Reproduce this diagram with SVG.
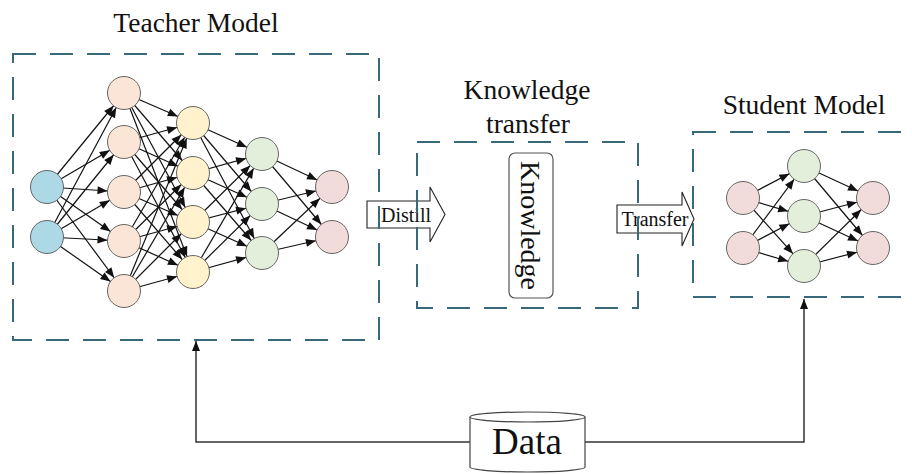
<svg xmlns="http://www.w3.org/2000/svg" width="912" height="474" viewBox="0 0 912 474">
  <style>
    .title { font-family: "Liberation Serif", "Times New Roman", serif; font-size: 27.5px; fill: #111; text-anchor: middle; }
    .lbl { font-family: "Liberation Serif", "Times New Roman", serif; font-size: 20px; fill: #111; text-anchor: middle; }
    .frame { fill: none; stroke: #37697a; stroke-width: 2; stroke-dasharray: 23 14; }
    .edge { stroke: #111; stroke-width: 1.2; marker-end: url(#head-node); }
    .feed { fill: none; stroke: #333; stroke-width: 1.5; marker-end: url(#head-feed); }
    .block { fill: #fff; stroke: #222; stroke-width: 1.1; }
    .n { stroke: #666; stroke-width: 1; }
    .in { fill: #add8e6; }
    .h1 { fill: #fbe5d6; }
    .h2 { fill: #fff2cc; }
    .h3 { fill: #e3eedb; }
    .out { fill: #f2dcdb; }
  </style>
  <defs>
    <!-- tip sits on the rim of a 16.5 radius neuron -->
    <marker id="head-node" viewBox="-12 -6 32 12" markerWidth="32" markerHeight="12" markerUnits="userSpaceOnUse" refX="16.5" refY="0" orient="auto" overflow="visible">
      <path d="M0,0 L-10,-4 L-10,4 Z" fill="#111"/>
    </marker>
    <marker id="head-feed" viewBox="-12 -6 14 12" markerWidth="14" markerHeight="12" markerUnits="userSpaceOnUse" refX="0" refY="0" orient="auto" overflow="visible">
      <path d="M0,0 L-10,-4 L-10,4 Z" fill="#111"/>
    </marker>
  </defs>

  <rect width="912" height="474" fill="#fff"/>

  <g id="connectors">
    <!-- teacher: input -> hidden 1 -->
    <line class="edge" x1="47" y1="187" x2="124" y2="93"/>
    <line class="edge" x1="47" y1="187" x2="124" y2="142"/>
    <line class="edge" x1="47" y1="187" x2="124" y2="192"/>
    <line class="edge" x1="47" y1="187" x2="124" y2="241"/>
    <line class="edge" x1="47" y1="187" x2="124" y2="291"/>
    <line class="edge" x1="47" y1="237" x2="124" y2="93"/>
    <line class="edge" x1="47" y1="237" x2="124" y2="142"/>
    <line class="edge" x1="47" y1="237" x2="124" y2="192"/>
    <line class="edge" x1="47" y1="237" x2="124" y2="241"/>
    <line class="edge" x1="47" y1="237" x2="124" y2="291"/>
    <!-- teacher: hidden 1 -> hidden 2 -->
    <line class="edge" x1="124" y1="93" x2="193" y2="123"/>
    <line class="edge" x1="124" y1="93" x2="193" y2="173"/>
    <line class="edge" x1="124" y1="93" x2="193" y2="222"/>
    <line class="edge" x1="124" y1="93" x2="193" y2="272"/>
    <line class="edge" x1="124" y1="142" x2="193" y2="123"/>
    <line class="edge" x1="124" y1="142" x2="193" y2="173"/>
    <line class="edge" x1="124" y1="142" x2="193" y2="222"/>
    <line class="edge" x1="124" y1="142" x2="193" y2="272"/>
    <line class="edge" x1="124" y1="192" x2="193" y2="123"/>
    <line class="edge" x1="124" y1="192" x2="193" y2="173"/>
    <line class="edge" x1="124" y1="192" x2="193" y2="222"/>
    <line class="edge" x1="124" y1="192" x2="193" y2="272"/>
    <line class="edge" x1="124" y1="241" x2="193" y2="123"/>
    <line class="edge" x1="124" y1="241" x2="193" y2="173"/>
    <line class="edge" x1="124" y1="241" x2="193" y2="222"/>
    <line class="edge" x1="124" y1="241" x2="193" y2="272"/>
    <line class="edge" x1="124" y1="291" x2="193" y2="123"/>
    <line class="edge" x1="124" y1="291" x2="193" y2="173"/>
    <line class="edge" x1="124" y1="291" x2="193" y2="222"/>
    <line class="edge" x1="124" y1="291" x2="193" y2="272"/>
    <!-- teacher: hidden 2 -> hidden 3 -->
    <line class="edge" x1="193" y1="123" x2="262" y2="154"/>
    <line class="edge" x1="193" y1="123" x2="262" y2="204"/>
    <line class="edge" x1="193" y1="123" x2="262" y2="253"/>
    <line class="edge" x1="193" y1="173" x2="262" y2="154"/>
    <line class="edge" x1="193" y1="173" x2="262" y2="204"/>
    <line class="edge" x1="193" y1="173" x2="262" y2="253"/>
    <line class="edge" x1="193" y1="222" x2="262" y2="154"/>
    <line class="edge" x1="193" y1="222" x2="262" y2="204"/>
    <line class="edge" x1="193" y1="222" x2="262" y2="253"/>
    <line class="edge" x1="193" y1="272" x2="262" y2="154"/>
    <line class="edge" x1="193" y1="272" x2="262" y2="204"/>
    <line class="edge" x1="193" y1="272" x2="262" y2="253"/>
    <!-- teacher: hidden 3 -> output -->
    <line class="edge" x1="262" y1="154" x2="332" y2="187"/>
    <line class="edge" x1="262" y1="154" x2="332" y2="237"/>
    <line class="edge" x1="262" y1="204" x2="332" y2="187"/>
    <line class="edge" x1="262" y1="204" x2="332" y2="237"/>
    <line class="edge" x1="262" y1="253" x2="332" y2="187"/>
    <line class="edge" x1="262" y1="253" x2="332" y2="237"/>

    <!-- student: input -> hidden -->
    <line class="edge" x1="743" y1="198" x2="804" y2="166"/>
    <line class="edge" x1="743" y1="198" x2="804" y2="216"/>
    <line class="edge" x1="743" y1="198" x2="804" y2="266"/>
    <line class="edge" x1="743" y1="248" x2="804" y2="166"/>
    <line class="edge" x1="743" y1="248" x2="804" y2="216"/>
    <line class="edge" x1="743" y1="248" x2="804" y2="266"/>
    <!-- student: hidden -> output -->
    <line class="edge" x1="804" y1="166" x2="873" y2="198"/>
    <line class="edge" x1="804" y1="166" x2="873" y2="248"/>
    <line class="edge" x1="804" y1="216" x2="873" y2="198"/>
    <line class="edge" x1="804" y1="216" x2="873" y2="248"/>
    <line class="edge" x1="804" y1="266" x2="873" y2="198"/>
    <line class="edge" x1="804" y1="266" x2="873" y2="248"/>

    <!-- block arrows between stages -->
    <g id="distill">
      <polygon class="block" points="367,201 430,201 430,187 445,214.5 430,242 430,228 367,228"/>
      <text class="lbl" x="406" y="222">Distill</text>
    </g>
    <g id="transfer">
      <polygon class="block" points="617,205 682,205 682,192 694,219 682,246 682,233 617,233"/>
      <text class="lbl" x="655" y="226">Transfer</text>
    </g>

    <!-- data feeds both models -->
    <path class="feed" d="M470,442 H196 V341"/>
    <path class="feed" d="M585,442 H804 V299"/>
  </g>

  <g id="teacher-model">
    <text class="title" x="196" y="32">Teacher Model</text>
    <rect class="frame" x="13" y="54" width="366" height="286"/>
    <g class="n">
      <circle class="in" cx="47" cy="187" r="16.5"/>
      <circle class="in" cx="47" cy="237" r="16.5"/>
      <circle class="h1" cx="124" cy="93" r="16.5"/>
      <circle class="h1" cx="124" cy="142" r="16.5"/>
      <circle class="h1" cx="124" cy="192" r="16.5"/>
      <circle class="h1" cx="124" cy="241" r="16.5"/>
      <circle class="h1" cx="124" cy="291" r="16.5"/>
      <circle class="h2" cx="193" cy="123" r="16.5"/>
      <circle class="h2" cx="193" cy="173" r="16.5"/>
      <circle class="h2" cx="193" cy="222" r="16.5"/>
      <circle class="h2" cx="193" cy="272" r="16.5"/>
      <circle class="h3" cx="262" cy="154" r="16.5"/>
      <circle class="h3" cx="262" cy="204" r="16.5"/>
      <circle class="h3" cx="262" cy="253" r="16.5"/>
      <circle class="out" cx="332" cy="187" r="16.5"/>
      <circle class="out" cx="332" cy="237" r="16.5"/>
    </g>
  </g>

  <g id="knowledge-transfer">
    <text class="title" x="527" y="99">Knowledge</text>
    <text class="title" x="528" y="133">transfer</text>
    <rect class="frame" x="417" y="142" width="221" height="166"/>
    <rect x="509" y="153" width="44" height="145" rx="6" fill="#fff" stroke="#555" stroke-width="1.2"/>
    <text class="title" transform="translate(521,225.5) rotate(90)" style="font-size:28px">Knowledge</text>
  </g>

  <g id="student-model">
    <text class="title" x="804" y="114">Student Model</text>
    <rect class="frame" x="693" y="132" width="225" height="165"/>
    <g class="n">
      <circle class="out" cx="743" cy="198" r="16.5"/>
      <circle class="out" cx="743" cy="248" r="16.5"/>
      <circle class="h3" cx="804" cy="166" r="16.5"/>
      <circle class="h3" cx="804" cy="216" r="16.5"/>
      <circle class="h3" cx="804" cy="266" r="16.5"/>
      <circle class="out" cx="873" cy="198" r="16.5"/>
      <circle class="out" cx="873" cy="248" r="16.5"/>
    </g>
  </g>

  <g id="data">
    <path d="M470,417 V467 A57.5,5 0 0 0 585,467 V417" fill="#fff" stroke="#444" stroke-width="1.2"/>
    <ellipse cx="527.5" cy="417" rx="57.5" ry="5" fill="#fff" stroke="#444" stroke-width="1.2"/>
    <text x="527" y="454" text-anchor="middle" font-family="Liberation Serif, Times New Roman, serif" font-size="37" fill="#111">Data</text>
  </g>
</svg>
